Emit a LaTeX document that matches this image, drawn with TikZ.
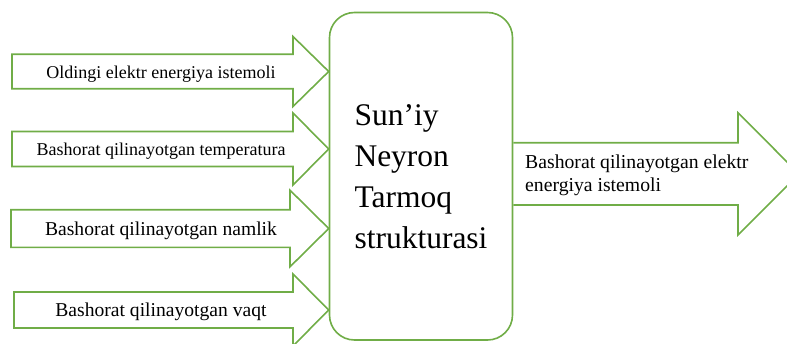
\documentclass[tikz,border=0pt]{standalone}
\usepackage{fontspec}
\setmainfont{Liberation Serif}
\definecolor{leaf}{RGB}{112,173,71}
\begin{document}
\begin{tikzpicture}[x=1pt,y=-1pt,
  arr/.style={draw=leaf,line width=1.6pt,line join=miter},
  annbox/.style={draw=leaf,line width=1.6pt,rounded corners=25pt,minimum width=183pt,
    minimum height=327.5pt,align=left,inner sep=0pt,font=\fontsize{31.5}{41}\selectfont}]
\clip (0,0) rectangle (787,343);
\node[annbox] (ann) at (421,176.25) {Sun’iy\\Neyron\\Tarmoq\\strukturasi};
\foreach \n/\lx/\yc/\sh/\hh/\hx/\fs/\txt in {
  1/12/71.5/17.25/35/293/18/Oldingi elektr energiya istemoli,
  2/12/149/17.5/36/293/18/Bashorat qilinayotgan temperatura,
  3/11/228.5/18.8/38.3/290/19.6/Bashorat qilinayotgan namlik,
  4/14/310/18/36/293/19.6/Bashorat qilinayotgan vaqt}
{
  \draw[arr] (\lx,\yc-\sh) -- (\hx,\yc-\sh) -- (\hx,\yc-\hh) -- (ann.west |- 0,\yc)
    -- (\hx,\yc+\hh) -- (\hx,\yc+\sh) -- (\lx,\yc+\sh) -- cycle;
  \node[anchor=base,font=\fontsize{\fs}{\fs}\selectfont] (in\n) at (161,\yc+6.5) {\txt};
}
\draw[arr] (ann.east |- 0,142.7) -- (738,142.7) -- (738,112.7) -- (799,174)
  -- (738,235) -- (738,205) -- (ann.east |- 0,205);
\node[anchor=west,align=left,inner sep=0pt,font=\fontsize{19.7}{23}\selectfont] (out)
  at (525,174.8) {Bashorat qilinayotgan elektr\\energiya istemoli};
\end{tikzpicture}
\end{document}
